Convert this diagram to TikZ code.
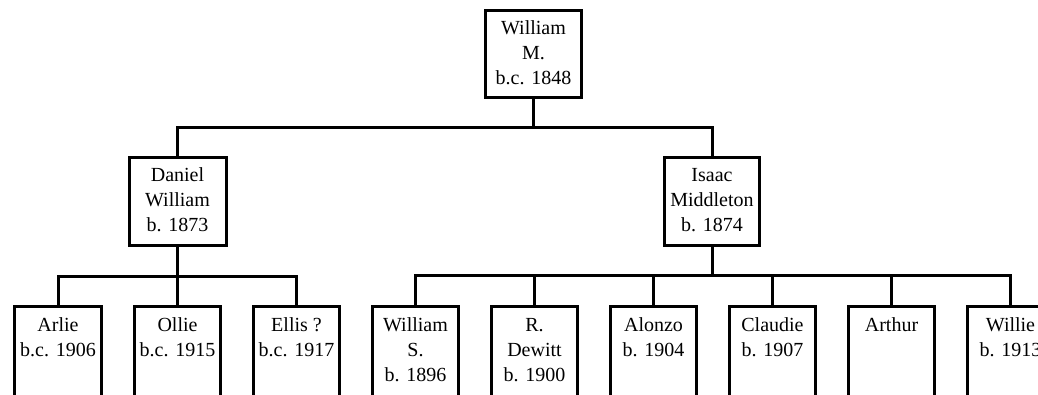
\documentclass[tikz,border=0pt]{standalone}
\usepackage{fontspec}
\setmainfont{Liberation Serif}
\begin{document}
\begin{tikzpicture}[x=1pt,y=-1pt,line width=3pt,
  txt/.style={font=\fontsize{20}{25}\selectfont},
  big/.style={draw,line width=3pt,inner sep=0pt,outer sep=0pt,align=center,txt,minimum width=97pt,minimum height=88pt},
  kid/.style={draw,line width=3pt,inner sep=0pt,outer sep=0pt,minimum width=86.5pt,minimum height=100pt,anchor=north},
  kidtext/.style={anchor=north,inner sep=0pt,align=center,txt,yshift=-6pt}]
\useasboundingbox (0,0) rectangle (1038,394);
\clip (0,0) rectangle (1038,394);
% people
\node[big,minimum width=96pt,minimum height=87pt] (wm) at (533.5,54) {\strut William\\\strut M.\\\strut b.c. 1848};
\node[big] (dw) at (177.5,201.5) {\strut Daniel\\\strut William\\\strut b. 1873};
\node[big,minimum width=95pt] (im) at (712,201.5) {\strut Isaac\\\strut Middleton\\\strut b. 1874};
\node[kid,label={[kidtext]north:{\strut Arlie\\b.c. 1906}}] (arlie) at (58,306.5) {};
\node[kid,label={[kidtext]north:{\strut Ollie\\b.c. 1915}}] (ollie) at (177.5,306.5) {};
\node[kid,label={[kidtext]north:{\strut Ellis ?\\b.c. 1917}}] (ellis) at (296.5,306.5) {};
\node[kid,label={[kidtext]north:{\strut William\\S.\\b. 1896}}] (ws) at (415.5,306.5) {};
\node[kid,label={[kidtext]north:{\strut R.\\Dewitt\\b. 1900}}] (rd) at (534.5,306.5) {};
\node[kid,label={[kidtext]north:{\strut Alonzo\\b. 1904}}] (al) at (653.5,306.5) {};
\node[kid,label={[kidtext]north:{\strut Claudie\\b. 1907}}] (cl) at (772.5,306.5) {};
\node[kid,label={[kidtext]north:{\strut Arthur}}] (ar) at (891.5,306.5) {};
\node[kid,label={[kidtext]north:{\strut Willie\\b. 1913}}] (wi) at (1010.5,306.5) {};
% connectors
\coordinate (b0) at (533.5,127);
\coordinate (b1) at (177.5,276);
\coordinate (b2) at (712,275);
\draw (wm.south) -- (b0);
\draw (b0) -| (dw.north);
\draw (b0) -| (im.north);
\draw (dw.south) -- (b1);
\draw (b1) -| (arlie.north);
\draw (b1) -| (ollie.north);
\draw (b1) -| (ellis.north);
\draw (im.south) -- (b2);
\draw (b2) -| (ws.north);
\draw (b2) -| (rd.north);
\draw (b2) -| (al.north);
\draw (b2) -| (cl.north);
\draw (b2) -| (ar.north);
\draw (b2) -| (wi.north);
\end{tikzpicture}
\end{document}
